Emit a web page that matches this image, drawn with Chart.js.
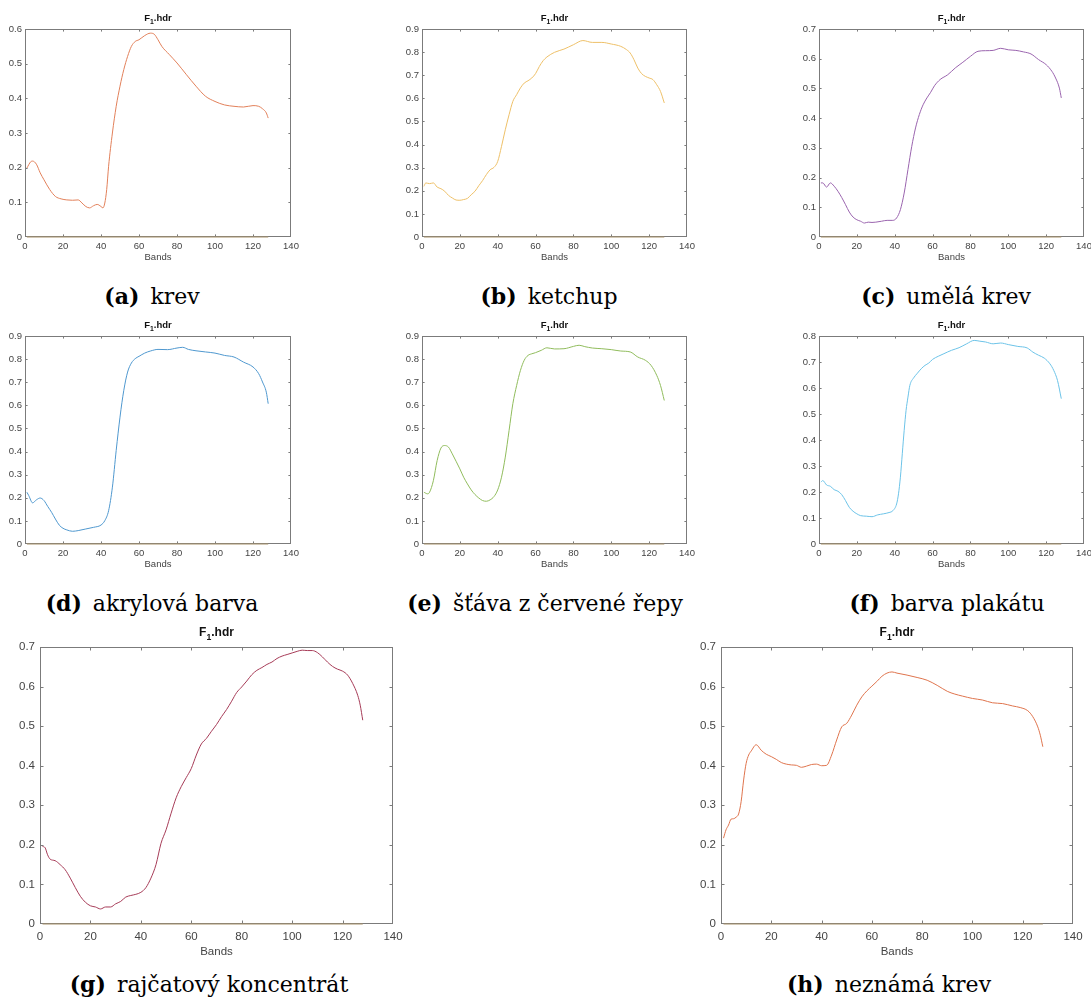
<!DOCTYPE html>
<html>
<head>
<meta charset="utf-8">
<script src="https://cdn.jsdelivr.net/npm/chart.js@4.4.0/dist/chart.umd.min.js"></script>
<style>
  html, body { margin: 0; padding: 0; background: #fff; overflow: hidden; width: 1091px; height: 1008px; }
  canvas { position: absolute; }
  .cap { position: absolute; width: 440px; text-align: center; font-family: "DejaVu Serif", serif;
         font-size: 22px; line-height: 22px; color: #000; white-space: nowrap; }
</style>
</head>
<body>
<script>
// spectra (band number -> reflectance)
const krevBands = [1,3,4,6,8,10,13,16,19,22,25,28,30,32,34,36,38,40,41,42,43,44,46,48,50,52,54,56,58,60,63,66,68,70,72,76,80,85,90,95,100,105,110,115,120,123,125,127,128];
const krevRefl = [0.199,0.217,0.219,0.21,0.185,0.165,0.137,0.117,0.11,0.107,0.106,0.107,0.098,0.088,0.084,0.09,0.094,0.088,0.084,0.098,0.137,0.204,0.30,0.377,0.435,0.483,0.521,0.55,0.564,0.569,0.581,0.588,0.585,0.569,0.55,0.526,0.502,0.468,0.435,0.406,0.391,0.381,0.377,0.375,0.379,0.377,0.37,0.358,0.343];

const ketchupBands = [1,2,4,6,8,10,12,14,16,18,20,22,24,26,28,30,32,34,36,38,40,42,44,46,48,50,52,54,56,58,60,62,64,66,70,75,80,85,90,95,100,105,108,110,112,114,116,118,120,122,124,126,128];
const ketchupRefl = [0.219,0.234,0.231,0.234,0.216,0.209,0.198,0.18,0.169,0.16,0.159,0.162,0.167,0.183,0.198,0.222,0.244,0.27,0.291,0.301,0.327,0.392,0.464,0.529,0.587,0.616,0.645,0.666,0.676,0.688,0.707,0.738,0.763,0.779,0.799,0.813,0.832,0.85,0.842,0.842,0.835,0.825,0.811,0.796,0.767,0.731,0.707,0.695,0.688,0.681,0.659,0.63,0.58];

const umelaBands = [1,2,4,6,8,10,12,14,16,18,20,22,24,26,28,30,33,36,39,41,43,45,47,49,51,53,55,57,59,61,64,68,72,76,80,84,88,92,96,100,104,108,112,116,120,123,125,127,128];
const umelaRefl = [0.182,0.182,0.168,0.182,0.171,0.154,0.133,0.109,0.084,0.067,0.058,0.053,0.047,0.05,0.049,0.05,0.053,0.056,0.056,0.064,0.092,0.148,0.227,0.305,0.367,0.412,0.445,0.468,0.487,0.509,0.53,0.546,0.569,0.588,0.608,0.625,0.627,0.628,0.635,0.63,0.628,0.623,0.616,0.597,0.58,0.558,0.535,0.501,0.468];

const akrylBands = [1,2,4,6,8,10,12,14,16,18,20,22,25,28,32,36,40,42,44,46,48,50,52,54,56,58,60,63,66,70,75,80,83,86,90,95,100,105,110,115,120,123,125,127,128];
const akrylRefl = [0.224,0.209,0.178,0.191,0.199,0.188,0.162,0.137,0.108,0.082,0.068,0.061,0.055,0.058,0.065,0.072,0.082,0.101,0.144,0.246,0.405,0.549,0.665,0.744,0.783,0.802,0.812,0.826,0.835,0.842,0.841,0.848,0.851,0.842,0.836,0.831,0.826,0.816,0.809,0.787,0.766,0.737,0.701,0.657,0.607];

const repaBands = [1,3,4,6,8,10,12,14,16,18,20,22,24,26,28,30,32,34,36,38,40,42,44,46,48,50,52,54,56,58,60,63,66,70,75,80,83,86,90,95,100,105,110,114,118,121,124,126,128];
const repaRefl = [0.224,0.217,0.224,0.274,0.361,0.415,0.426,0.419,0.39,0.358,0.325,0.289,0.26,0.234,0.214,0.199,0.188,0.185,0.191,0.205,0.234,0.289,0.376,0.491,0.607,0.686,0.751,0.795,0.816,0.823,0.828,0.838,0.849,0.844,0.845,0.855,0.86,0.854,0.848,0.845,0.841,0.835,0.831,0.809,0.795,0.773,0.73,0.686,0.621];

const plakatBands = [1,2,4,6,8,10,12,14,16,18,20,22,25,28,31,34,37,39,41,42,43,44,45,46,47,48,50,52,54,56,58,60,63,66,70,74,78,82,85,88,92,96,100,105,110,113,116,119,122,124,126,128];
const plakatRefl = [0.238,0.244,0.227,0.222,0.209,0.203,0.19,0.167,0.141,0.126,0.116,0.109,0.107,0.105,0.112,0.116,0.121,0.128,0.154,0.193,0.257,0.347,0.437,0.514,0.565,0.61,0.639,0.657,0.674,0.687,0.696,0.71,0.722,0.732,0.745,0.755,0.77,0.783,0.78,0.777,0.77,0.773,0.767,0.76,0.754,0.738,0.726,0.715,0.693,0.668,0.629,0.559];

const rajceBands = [1,2,3,4,6,8,10,12,14,16,18,20,22,24,26,28,30,32,34,36,38,40,42,44,46,48,50,52,54,56,58,60,62,64,66,68,70,72,74,76,78,80,82,84,86,88,90,92,94,96,98,100,102,104,106,108,110,112,114,116,118,120,122,124,126,127,128];
const rajceRefl = [0.196,0.193,0.175,0.164,0.16,0.15,0.137,0.116,0.092,0.07,0.055,0.046,0.043,0.038,0.043,0.043,0.051,0.057,0.068,0.072,0.075,0.08,0.092,0.116,0.15,0.204,0.238,0.28,0.319,0.347,0.37,0.393,0.427,0.455,0.469,0.487,0.504,0.524,0.542,0.563,0.585,0.599,0.614,0.63,0.641,0.648,0.656,0.662,0.671,0.677,0.681,0.685,0.689,0.692,0.691,0.691,0.686,0.675,0.662,0.651,0.644,0.639,0.629,0.608,0.578,0.553,0.515];

const neznamaBands = [1,2,3,4,5,6,7,8,9,10,11,12,14,16,18,20,22,24,26,28,30,32,34,36,38,40,42,44,46,48,50,52,54,56,58,60,62,64,66,68,70,74,78,82,86,90,93,96,100,104,108,112,116,119,122,124,126,127,128];
const neznamaRefl = [0.217,0.238,0.25,0.265,0.266,0.27,0.278,0.309,0.364,0.406,0.427,0.437,0.453,0.439,0.429,0.423,0.416,0.408,0.404,0.402,0.401,0.396,0.399,0.403,0.404,0.4,0.401,0.427,0.465,0.498,0.507,0.528,0.553,0.574,0.589,0.601,0.613,0.626,0.634,0.637,0.634,0.629,0.623,0.616,0.603,0.588,0.581,0.576,0.57,0.566,0.559,0.557,0.551,0.547,0.539,0.524,0.498,0.477,0.448];

// second (flat) trace lying on the x axis in every panel
const zeroBands = [1, 128];
const zeroRefl = [0, 0];

const xTicks = [0, 20, 40, 60, 80, 100, 120, 140];

// row styles: small = top two rows, big = bottom row
const rowStyle = {
  small: { tick: 9.5, title: 9.5, wy: 30, r: 15, t: 29, hx: 30, padX: 4, padY: 3, titlePb: 4, tickLen: 2.6, titleOff: 11 },
  big:   { tick: 11.5, title: 12, wy: 40, r: 20, t: 30, hx: 38, padX: 5.5, padY: 5, titlePb: 3, tickLen: 3.5, titleOff: 15 }
};

const panels = [
  { tag: '(a)', name: 'krev', bands: krevBands, refl: krevRefl, color: '#e2805a', ymax: 0.6, box: [25, 29, 291, 237], row: 'small', capX: 152, capTop: 285 },
  { tag: '(b)', name: 'ketchup', bands: ketchupBands, refl: ketchupRefl, color: '#eec068', ymax: 0.9, box: [422, 29, 687, 237], row: 'small', capX: 549, capTop: 285 },
  { tag: '(c)', name: 'umělá krev', bands: umelaBands, refl: umelaRefl, color: '#9a64ae', ymax: 0.7, box: [819, 29, 1084, 237], row: 'small', capX: 946, capTop: 285 },
  { tag: '(d)', name: 'akrylová barva', bands: akrylBands, refl: akrylRefl, color: '#4f98cf', ymax: 0.9, box: [25, 336, 291, 544], row: 'small', capX: 152, capTop: 592 },
  { tag: '(e)', name: 'šťáva z červené řepy', bands: repaBands, refl: repaRefl, color: '#90bc5c', ymax: 0.9, box: [422, 336, 687, 544], row: 'small', capX: 545, capTop: 592 },
  { tag: '(f)', name: 'barva plakátu', bands: plakatBands, refl: plakatRefl, color: '#6cc3e8', ymax: 0.8, box: [819, 336, 1084, 544], row: 'small', capX: 947, capTop: 592 },
  { tag: '(g)', name: 'rajčatový koncentrát', bands: rajceBands, refl: rajceRefl, color: '#a63b57', ymax: 0.7, box: [40, 647, 393, 924], row: 'big', capX: 209, capTop: 973 },
  { tag: '(h)', name: 'neznámá krev', bands: neznamaBands, refl: neznamaRefl, color: '#df744d', ymax: 0.7, box: [721, 647, 1073, 924], row: 'big', capX: 889, capTop: 973 }
];

// axes box with inward ticks on all sides, and the F1.hdr title with a real subscript
const matlabAxes = {
  id: 'matlabAxes',
  beforeDatasetsDraw(chart, args, opts) {
    const { ctx, chartArea: a, scales } = chart;
    ctx.save();
    ctx.strokeStyle = '#7b7b7b';
    ctx.lineWidth = 1;
    ctx.strokeRect(a.left + 0.5, a.top + 0.5, a.right - a.left - 1, a.bottom - a.top - 1);
    ctx.beginPath();
    scales.x.ticks.forEach(t => {
      const px = Math.round(scales.x.getPixelForValue(t.value)) + 0.5;
      if (px <= a.left + 1 || px >= a.right - 1) return;
      ctx.moveTo(px, a.bottom); ctx.lineTo(px, a.bottom - opts.tickLen);
      ctx.moveTo(px, a.top); ctx.lineTo(px, a.top + opts.tickLen);
    });
    scales.y.ticks.forEach(t => {
      const py = Math.round(scales.y.getPixelForValue(t.value)) + 0.5;
      if (py <= a.top + 1 || py >= a.bottom - 1) return;
      ctx.moveTo(a.left, py); ctx.lineTo(a.left + opts.tickLen, py);
      ctx.moveTo(a.right, py); ctx.lineTo(a.right - opts.tickLen, py);
    });
    ctx.stroke();
    ctx.restore();
  },
  afterDraw(chart, args, opts) {
    const { ctx, chartArea: a } = chart;
    const fs = opts.titleSize;
    const big = `bold ${fs}px "Liberation Sans", Arial, sans-serif`;
    const small = `bold ${fs * 0.72}px "Liberation Sans", Arial, sans-serif`;
    ctx.save();
    ctx.fillStyle = '#111';
    ctx.textBaseline = 'alphabetic';
    ctx.font = big;
    const wF = ctx.measureText('F').width;
    const wRest = ctx.measureText('.hdr').width;
    ctx.font = small;
    const w1 = ctx.measureText('1').width;
    const total = wF + w1 + wRest;
    let x = (a.left + a.right) / 2 - total / 2;
    const base = a.top - opts.titleOff + fs * 0.36;
    ctx.font = big;
    ctx.fillText('F', x, base);
    x += wF;
    ctx.font = small;
    ctx.fillText('1', x, base + fs * 0.3);
    x += w1;
    ctx.font = big;
    ctx.fillText('.hdr', x, base);
    ctx.restore();
  }
};

panels.forEach(p => {
  const s = rowStyle[p.row];
  const [l, t, r, b] = p.box;
  const canvas = document.createElement('canvas');
  const w = s.wy + (r - l) + s.r;
  const h = s.t + (b - t) + s.hx;
  canvas.width = w;
  canvas.height = h;
  canvas.style.left = (l - s.wy) + 'px';
  canvas.style.top = (t - s.t) + 'px';
  canvas.style.width = w + 'px';
  canvas.style.height = h + 'px';
  document.body.appendChild(canvas);

  const tickFont = { family: '"Liberation Sans", Arial, sans-serif', size: s.tick };

  new Chart(canvas.getContext('2d'), {
    type: 'line',
    data: {
      datasets: [
        {
          data: p.bands.map((v, i) => ({ x: v, y: p.refl[i] })),
          borderColor: p.color,
          borderWidth: 1,
          pointRadius: 0,
          cubicInterpolationMode: 'monotone',
          fill: false
        },
        {
          data: zeroBands.map((v, i) => ({ x: v, y: zeroRefl[i] })),
          borderColor: '#a8916b',
          borderWidth: 1.2,
          pointRadius: 0,
          clip: false,
          fill: false
        }
      ]
    },
    options: {
      responsive: false,
      animation: false,
      events: [],
      layout: { padding: { top: s.t, right: s.r, left: 0, bottom: 0 } },
      plugins: {
        legend: { display: false },
        tooltip: { enabled: false },
        title: { display: false },
        matlabAxes: { tickLen: s.tickLen, titleSize: s.title, titleOff: s.titleOff }
      },
      scales: {
        x: {
          type: 'linear',
          min: 0,
          max: 140,
          afterBuildTicks: sc => { sc.ticks = xTicks.map(v => ({ value: v })); },
          afterFit: sc => { sc.height = s.hx; },
          grid: { display: false, drawTicks: false },
          border: { display: false },
          ticks: { font: tickFont, color: '#444', padding: s.padX, maxRotation: 0, autoSkip: false },
          title: { display: true, text: 'Bands', font: tickFont, color: '#444', padding: { top: 0, bottom: s.titlePb } }
        },
        y: {
          type: 'linear',
          min: 0,
          max: p.ymax,
          afterFit: sc => { sc.width = s.wy; },
          grid: { display: false, drawTicks: false },
          border: { display: false },
          ticks: {
            stepSize: 0.1,
            font: tickFont,
            color: '#444',
            padding: s.padY,
            autoSkip: false,
            callback: v => String(Math.round(v * 10) / 10)
          }
        }
      }
    },
    plugins: [matlabAxes]
  });

  const cap = document.createElement('div');
  cap.className = 'cap';
  cap.style.left = (p.capX - 220) + 'px';
  cap.style.top = p.capTop + 'px';
  const tag = document.createElement('b');
  tag.textContent = p.tag;
  cap.appendChild(tag);
  cap.appendChild(document.createTextNode('\u2002' + p.name));
  document.body.appendChild(cap);
});
</script>
</body>
</html>
